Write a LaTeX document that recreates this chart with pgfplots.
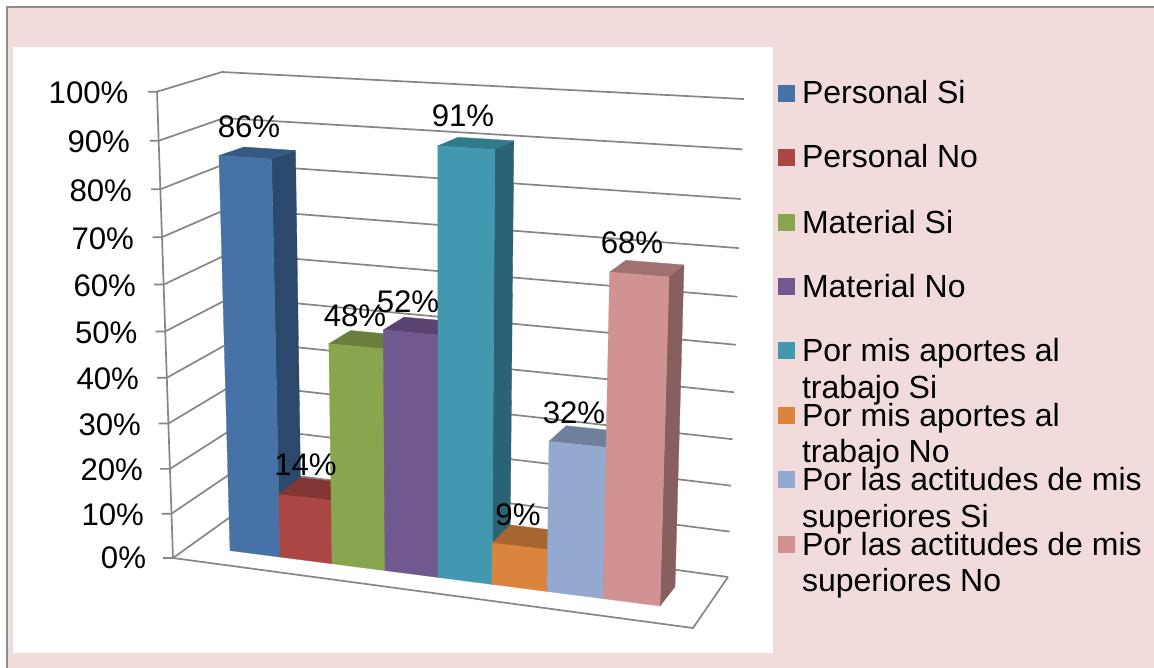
\documentclass[border=0pt]{standalone}
\usepackage{fontspec}
\setmainfont{Liberation Sans}
\usepackage{pgfplots}
\pgfplotsset{compat=1.18}
\definecolor{pinkbg}{HTML}{F2DCDB}
\definecolor{framec}{HTML}{8E8E8E}
\definecolor{gridc}{HTML}{868686}
\definecolor{bluF}{HTML}{4672A6}\definecolor{bluS}{HTML}{2D486D}\definecolor{bluT}{HTML}{375A85}
\definecolor{redF}{HTML}{AA4643}\definecolor{redS}{HTML}{6F2E2C}\definecolor{redT}{HTML}{833634}
\definecolor{greF}{HTML}{89A54E}\definecolor{greS}{HTML}{596B33}\definecolor{greT}{HTML}{6A7F3C}
\definecolor{purF}{HTML}{71588F}\definecolor{purS}{HTML}{4A395D}\definecolor{purT}{HTML}{5A4271}
\definecolor{teaF}{HTML}{4198AF}\definecolor{teaS}{HTML}{2A6373}\definecolor{teaT}{HTML}{317A8C}
\definecolor{oraF}{HTML}{DB843D}\definecolor{oraS}{HTML}{8F5628}\definecolor{oraT}{HTML}{A76530}
\definecolor{lblF}{HTML}{93A9CF}\definecolor{lblS}{HTML}{606E87}\definecolor{lblT}{HTML}{6F7F9C}
\definecolor{pnkF}{HTML}{D19392}\definecolor{pnkS}{HTML}{885F5F}\definecolor{pnkT}{HTML}{A07170}
\pgfmathdeclarefunction{bt}{1}{\pgfmathparse{0.957*(#1/100)/(1-0.043*#1/100)}}
\pgfmathdeclarefunction{wt}{1}{\pgfmathparse{0.945*(#1/100)/(1-0.055*#1/100)}}
\pgfmathdeclarefunction{barX}{3}{\pgfmathparse{(1-#3)*((1-bt(#2))*((1-#1)*230+#1*660)+bt(#2)*((1-#1)*217.1+#1*673.4))+#3*((1-bt(#2))*((1-#1)*252.3+#1*675)+bt(#2)*((1-#1)*242.6+#1*688.4))}}
\pgfmathdeclarefunction{barY}{3}{\pgfmathparse{(1-#3)*((1-bt(#2))*((1-#1)*550.6+#1*606)+bt(#2)*((1-#1)*88.3+#1*115.2))+#3*((1-bt(#2))*((1-#1)*532.3+#1*586.7)+bt(#2)*((1-#1)*81.5+#1*106.7))}}
% one bar: left edge, right edge, value, colours of front, side, top
\newcommand{\BarFaces}[6]{%
 \addplot[fill=#5,draw=#5,line width=.3pt] table[row sep=\\,x expr={barX(\thisrow{u},\thisrow{v},\thisrow{w})},y expr={barY(\thisrow{u},\thisrow{v},\thisrow{w})}]
   {u v w\\ #2 0 0\\ #2 0 1\\ #2 #3 1\\ #2 #3 0\\} -- cycle;
 \addplot[fill=#6,draw=#6,line width=.3pt] table[row sep=\\,x expr={barX(\thisrow{u},\thisrow{v},\thisrow{w})},y expr={barY(\thisrow{u},\thisrow{v},\thisrow{w})}]
   {u v w\\ #1 #3 0\\ #1 #3 1\\ #2 #3 1\\ #2 #3 0\\} -- cycle;
 \addplot[fill=#4,draw=#4,line width=.3pt] table[row sep=\\,x expr={barX(\thisrow{u},\thisrow{v},\thisrow{w})},y expr={barY(\thisrow{u},\thisrow{v},\thisrow{w})}]
   {u v w\\ #1 0 0\\ #2 0 0\\ #2 #3 0\\ #1 #3 0\\} -- cycle;
}
% one gridline with its tick
\newcommand{\GridLevel}[1]{%
 \addplot[color=gridc,line width=1.7pt] table[row sep=\\,x expr={\thisrow{xb}+(\thisrow{xt}-\thisrow{xb})*wt(#1)},y expr={\thisrow{yb}+(\thisrow{yt}-\thisrow{yb})*wt(#1)}]
   {xb yb xt yt\\ 163 558 148 91.7\\ 173 558 157 91.7\\ 240 510 222 72\\ 728 577 744 99\\};
}
\newcommand{\Swatch}[3]{\addplot[fill=#3,draw=none] coordinates {(778,#1) (795,#1) (795,#2) (778,#2)} -- cycle;}
\newcommand{\Txt}[4]{\node[anchor=#1,inner sep=0pt,outer sep=0pt,font=\fontsize{32}{36}\selectfont] at (axis cs:#2,#3) {#4};}
\newcommand{\Num}[4]{\node[anchor=#1,inner sep=0pt,outer sep=0pt,font=\fontsize{31.2}{36}\selectfont] at (axis cs:#2,#3) {#4};}
\begin{document}
\begin{tikzpicture}
\begin{axis}[
  name=a,
  width=1154pt,height=667pt,scale only axis,
  xmin=0,xmax=1154,ymin=0,ymax=667,y dir=reverse,
  hide axis,
]
\addplot[fill=white,draw=none] coordinates {(0,0) (1154,0) (1154,667) (0,667)} -- cycle;
\addplot[fill=pinkbg,draw=none] coordinates {(7,7) (1160,7) (1160,675) (7,675)} -- cycle;
\addplot[color=framec,line width=2pt] coordinates {(7.3,675) (7.3,7.3) (1160,7.3)};
\addplot[fill=white,draw=none] coordinates {(13,47) (773,47) (773,653) (13,653)} -- cycle;
% walls and floor
\GridLevel{0}\GridLevel{10}\GridLevel{20}\GridLevel{30}\GridLevel{40}\GridLevel{50}
\GridLevel{60}\GridLevel{70}\GridLevel{80}\GridLevel{90}\GridLevel{100}
\addplot[color=gridc,line width=1.7pt] coordinates {(157,91.7) (173,558) (693,628) (728,577)};
% bars
\BarFaces{0}{.1163}{86}{bluF}{bluS}{bluT}
\BarFaces{.1163}{.2372}{14}{redF}{redS}{redT}
\BarFaces{.2372}{.3605}{48}{greF}{greS}{greT}
\BarFaces{.3605}{.4837}{52}{purF}{purS}{purT}
\BarFaces{.4837}{.6093}{91}{teaF}{teaS}{teaT}
\BarFaces{.6093}{.7372}{9}{oraF}{oraS}{oraT}
\BarFaces{.7372}{.8674}{32}{lblF}{lblS}{lblT}
\BarFaces{.8674}{1}{68}{pnkF}{pnkS}{pnkT}
% axis labels
\Num{base east}{128.5}{103}{100\%}
\Num{base east}{130}{152}{90\%}
\Num{base east}{132}{201}{80\%}
\Num{base east}{134}{249}{70\%}
\Num{base east}{136}{296}{60\%}
\Num{base east}{137.5}{343}{50\%}
\Num{base east}{139}{389}{40\%}
\Num{base east}{141}{435}{30\%}
\Num{base east}{143}{480}{20\%}
\Num{base east}{144}{525}{10\%}
\Num{base east}{146}{568}{0\%}
% value labels
\Num{base}{249}{137.5}{86\%}
\Num{base}{305.5}{475}{14\%}
\Num{base}{355}{326}{48\%}
\Num{base}{408}{312.7}{52\%}
\Num{base}{463}{126.7}{91\%}
\Num{base}{518}{525}{9\%}
\Num{base}{574}{423}{32\%}
\Num{base}{632}{253}{68\%}
% legend
\Swatch{85}{102}{bluF}
\Swatch{149}{166}{redF}
\Swatch{214}{231}{greF}
\Swatch{278}{295}{purF}
\Swatch{342}{359}{teaF}
\Swatch{407}{424}{oraF}
\Swatch{471}{488}{lblF}
\Swatch{536}{553}{pnkF}
\Txt{base west}{802}{103.5}{Personal Si}
\Txt{base west}{802}{167.5}{Personal No}
\Txt{base west}{802}{233}{Material Si}
\Txt{base west}{802}{297}{Material No}
\Txt{base west}{802}{361}{Por mis aportes al}
\Txt{base west}{802}{398}{trabajo Si}
\Txt{base west}{802}{426}{Por mis aportes al}
\Txt{base west}{802}{462.5}{trabajo No}
\Txt{base west}{802}{490.5}{Por las actitudes de mis}
\Txt{base west}{802}{527}{superiores Si}
\Txt{base west}{802}{555.5}{Por las actitudes de mis}
\Txt{base west}{802}{591.5}{superiores No}
\end{axis}
\pgfresetboundingbox
\path[use as bounding box] (a.south west) rectangle (a.north east);
\end{tikzpicture}
\end{document}
